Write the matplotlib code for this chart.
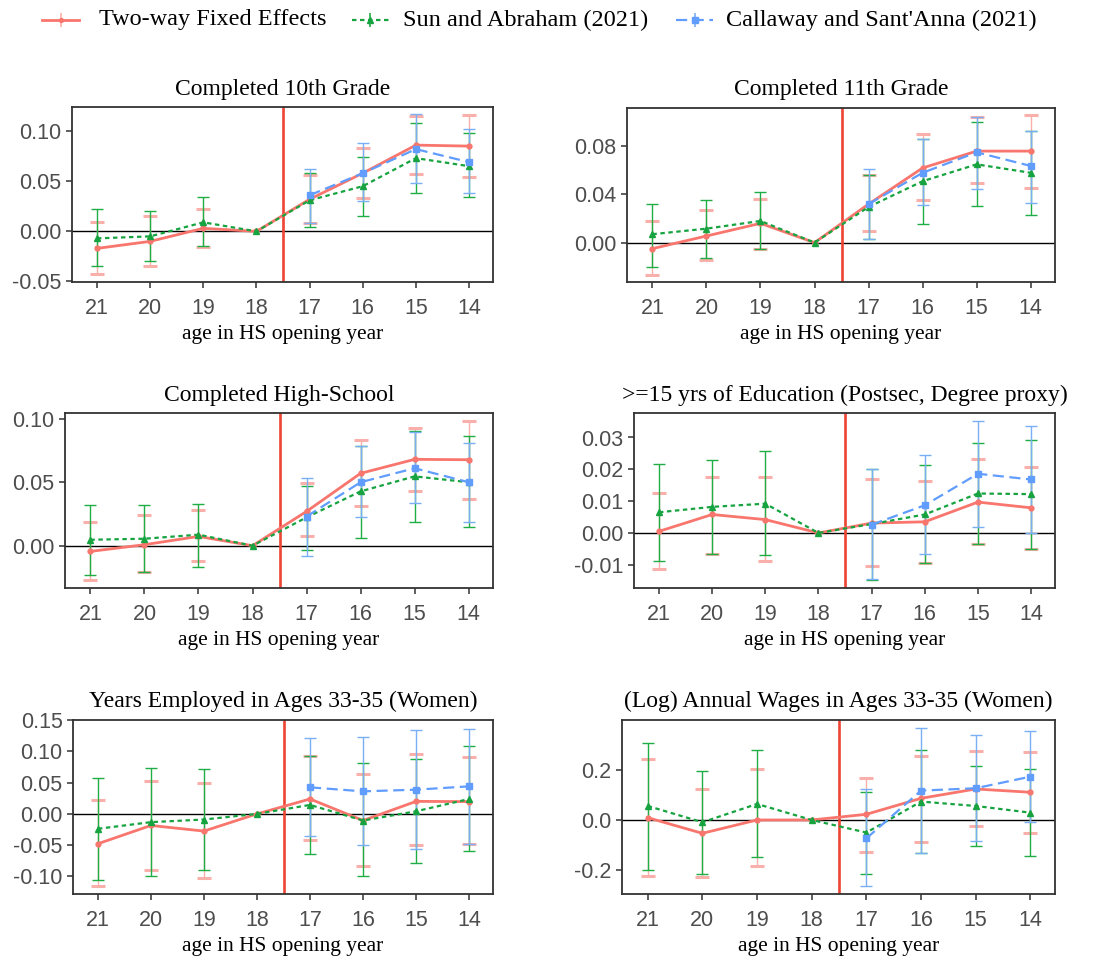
import numpy as np
import matplotlib
matplotlib.use("Agg")
import matplotlib.pyplot as plt
from matplotlib.lines import Line2D

plt.rcParams['axes.unicode_minus'] = False

nan = np.nan
ages = [21, 20, 19, 18, 17, 16, 15, 14]
cs_ages = [17, 16, 15, 14]

titles = ["Completed 10th Grade", "Completed 11th Grade", "Completed High-School",
          ">=15 yrs of Education (Postsec, Degree proxy)",
          "Years Employed in Ages 33-35 (Women)", "(Log) Annual Wages in Ages 33-35 (Women)"]
series_names = ["Two-way Fixed Effects", "Sun and Abraham (2021)", "Callaway and Sant'Anna (2021)"]
x_label = "age in HS opening year"

# Panel 1: Completed 10th Grade
p1_twfe = [-0.017, -0.010, 0.003, 0.0, 0.032, 0.058, 0.086, 0.085]
p1_twfe_lo = [-0.043, -0.035, -0.016, nan, 0.008, 0.033, 0.057, 0.054]
p1_twfe_hi = [0.009, 0.015, 0.022, nan, 0.056, 0.083, 0.115, 0.116]
p1_sa = [-0.007, -0.005, 0.009, 0.0, 0.031, 0.045, 0.073, 0.065]
p1_sa_lo = [-0.035, -0.030, -0.015, nan, 0.004, 0.015, 0.038, 0.034]
p1_sa_hi = [0.022, 0.020, 0.034, nan, 0.058, 0.074, 0.108, 0.098]
p1_cs = [0.036, 0.058, 0.082, 0.069]
p1_cs_lo = [0.008, 0.030, 0.048, 0.038]
p1_cs_hi = [0.062, 0.088, 0.117, 0.102]

# Panel 2: Completed 11th Grade
p2_twfe = [-0.005, 0.0055, 0.016, 0.0, 0.032, 0.062, 0.076, 0.076]
p2_twfe_lo = [-0.0266, -0.0147, -0.005, nan, 0.0097, 0.035, 0.0495, 0.0457]
p2_twfe_hi = [0.0177, 0.027, 0.0365, nan, 0.056, 0.0905, 0.104, 0.106]
p2_sa = [0.007, 0.0116, 0.018, 0.0, 0.0296, 0.051, 0.065, 0.058]
p2_sa_lo = [-0.020, -0.0125, -0.005, nan, 0.0028, 0.0158, 0.030, 0.0227]
p2_sa_hi = [0.0324, 0.035, 0.042, nan, 0.056, 0.086, 0.100, 0.093]
p2_cs = [0.032, 0.058, 0.075, 0.0637]
p2_cs_lo = [0.0033, 0.031, 0.0443, 0.033]
p2_cs_hi = [0.061, 0.086, 0.104, 0.093]

# Panel 3: Completed High-School
p3_twfe = [-0.0045, 0.0008, 0.0073, 0.0, 0.027, 0.057, 0.068, 0.0677]
p3_twfe_lo = [-0.0268, -0.021, -0.0123, nan, 0.0079, 0.031, 0.0428, 0.0367]
p3_twfe_hi = [0.0186, 0.0244, 0.028, nan, 0.049, 0.083, 0.093, 0.098]
p3_sa = [0.0047, 0.0055, 0.0087, 0.0, 0.0223, 0.0428, 0.0546, 0.050]
p3_sa_lo = [-0.0228, -0.0207, -0.0168, nan, -0.0037, 0.006, 0.0184, 0.0144]
p3_sa_hi = [0.0318, 0.0323, 0.033, nan, 0.0467, 0.0787, 0.090, 0.086]
p3_cs = [0.023, 0.050, 0.061, 0.050]
p3_cs_lo = [-0.008, 0.0223, 0.0336, 0.019]
p3_cs_hi = [0.053, 0.0787, 0.0895, 0.081]

# Panel 4: >=15 yrs of Education
p4_twfe = [0.0005, 0.0058, 0.0042, 0.0, 0.0031, 0.0035, 0.0097, 0.0079]
p4_twfe_lo = [-0.0113, -0.0066, -0.0089, nan, -0.0105, -0.0094, -0.0035, -0.005]
p4_twfe_hi = [0.0124, 0.0176, 0.0176, nan, 0.017, 0.0162, 0.0232, 0.0206]
p4_sa = [0.0065, 0.0082, 0.0092, 0.0, 0.0028, 0.0058, 0.0124, 0.0122]
p4_sa_lo = [-0.0087, -0.0065, -0.0068, nan, -0.0147, -0.0094, -0.0035, -0.0049]
p4_sa_hi = [0.0217, 0.023, 0.0257, nan, 0.0201, 0.0212, 0.0283, 0.0293]
p4_cs = [0.0026, 0.0087, 0.0186, 0.0168]
p4_cs_lo = [-0.0145, -0.0066, 0.0018, 0.0]
p4_cs_hi = [0.020, 0.0244, 0.0351, 0.0337]

# Panel 5: Years Employed
p5_twfe = [-0.0477, -0.0185, -0.0275, 0.0, 0.0238, -0.0106, 0.020, 0.0196]
p5_twfe_lo = [-0.1155, -0.089, -0.103, nan, -0.042, -0.0837, -0.049, -0.0477]
p5_twfe_hi = [0.0222, 0.053, 0.049, nan, 0.0927, 0.0636, 0.0964, 0.091]
p5_sa = [-0.0238, -0.0132, -0.009, 0.0, 0.0143, -0.0106, 0.0042, 0.0238]
p5_sa_lo = [-0.106, -0.0996, -0.090, nan, -0.0636, -0.0996, -0.0784, -0.0599]
p5_sa_hi = [0.057, 0.074, 0.0715, nan, 0.0927, 0.0805, 0.0874, 0.1086]
p5_cs = [0.0424, 0.036, 0.0387, 0.044]
p5_cs_lo = [-0.0355, -0.0503, -0.0567, -0.0477]
p5_cs_hi = [0.1218, 0.1234, 0.134, 0.136]

# Panel 6: (Log) Annual Wages
p6_twfe = [0.009, -0.053, 0.0, 0.0, 0.0225, 0.086, 0.123, 0.110]
p6_twfe_lo = [-0.2225, -0.228, -0.183, nan, -0.126, -0.089, -0.0225, -0.050]
p6_twfe_hi = [0.241, 0.123, 0.201, nan, 0.166, 0.254, 0.274, 0.269]
p6_sa = [0.0556, -0.009, 0.0636, 0.0, -0.050, 0.073, 0.0556, 0.029]
p6_sa_lo = [-0.199, -0.216, -0.148, nan, -0.216, -0.13, -0.103, -0.142]
p6_sa_hi = [0.305, 0.195, 0.278, nan, 0.1126, 0.278, 0.216, 0.201]
p6_cs = [-0.073, 0.1166, 0.126, 0.172]
p6_cs_lo = [-0.262, -0.130, -0.0834, -0.007]
p6_cs_hi = [0.123, 0.367, 0.338, 0.355]

y_ticks = [[-0.05, 0.00, 0.05, 0.10], [0.00, 0.04, 0.08], [0.00, 0.05, 0.10],
           [-0.01, 0.00, 0.01, 0.02, 0.03], [-0.10, -0.05, 0.00, 0.05, 0.10, 0.15],
           [-0.2, 0.0, 0.2]]
y_fmt = ["%.2f", "%.2f", "%.2f", "%.2f", "%.2f", "%.1f"]
y_lims = [(-0.0505, 0.124), (-0.0327, 0.1118), (-0.0333, 0.1045),
          (-0.0173, 0.0377), (-0.128, 0.148), (-0.294, 0.397)]

panels = [
    (p1_twfe, p1_twfe_lo, p1_twfe_hi, p1_sa, p1_sa_lo, p1_sa_hi, p1_cs, p1_cs_lo, p1_cs_hi),
    (p2_twfe, p2_twfe_lo, p2_twfe_hi, p2_sa, p2_sa_lo, p2_sa_hi, p2_cs, p2_cs_lo, p2_cs_hi),
    (p3_twfe, p3_twfe_lo, p3_twfe_hi, p3_sa, p3_sa_lo, p3_sa_hi, p3_cs, p3_cs_lo, p3_cs_hi),
    (p4_twfe, p4_twfe_lo, p4_twfe_hi, p4_sa, p4_sa_lo, p4_sa_hi, p4_cs, p4_cs_lo, p4_cs_hi),
    (p5_twfe, p5_twfe_lo, p5_twfe_hi, p5_sa, p5_sa_lo, p5_sa_hi, p5_cs, p5_cs_lo, p5_cs_hi),
    (p6_twfe, p6_twfe_lo, p6_twfe_hi, p6_sa, p6_sa_lo, p6_sa_hi, p6_cs, p6_cs_lo, p6_cs_hi),
]

# axes boxes in pixels: left, top, right, bottom
boxes = [(72, 107, 493, 282), (627, 108, 1055, 282),
         (65, 413, 493, 588), (634, 413, 1055, 588),
         (73, 720, 493, 894), (622, 720, 1055, 894)]

W, H = 1101, 963
fig = plt.figure(figsize=(W / 100, H / 100), dpi=100)

RED = "#F8766D"
RED_CI = "#F9B0AA"
VRED = "#EE4433"
GREEN = "#1FAE45"
GREEN_LINE = "#16A340"
BLUE = "#619CFF"
BLUE_CI = "#7AAEF5"

SERIF = ["Liberation Serif", "DejaVu Serif"]
SANS = ["Liberation Sans", "DejaVu Sans"]

pos = {a: i for i, a in enumerate(ages)}

RED_STYLE = dict(color=RED, lw=2.0, marker='o', ms=3.5)
GREEN_STYLE = dict(color=GREEN_LINE, lw=1.6, ls=(0, (2, 1.6)), marker='^', ms=5)
BLUE_STYLE = dict(color=BLUE, lw=1.6, ls=(0, (5, 2.5)), marker='s', ms=5)


def errbars(ax, xs, lo, hi, color, lw, capw, cap, z):
    xs = np.asarray(xs, float)
    lo = np.asarray(lo, float)
    hi = np.asarray(hi, float)
    m = ~np.isnan(lo)
    mid = (lo[m] + hi[m]) / 2
    ax.errorbar(xs[m], mid, yerr=[mid - lo[m], hi[m] - mid], fmt='none',
                ecolor=color, elinewidth=lw, capsize=cap, capthick=capw, zorder=z)


for i, (box, data) in enumerate(zip(boxes, panels)):
    l, t, r, b = box
    ax = fig.add_axes([l / W, 1 - b / H, (r - l) / W, (b - t) / H])
    tw, twl, twh, sa, sal, sah, cs, csl, csh = data
    x_all = [pos[a] for a in ages]
    x_cs = [pos[a] for a in cs_ages]

    ax.axhline(0, color="black", lw=1.0, zorder=1)
    ax.axvline(3.5, color=VRED, lw=1.9, zorder=2)

    errbars(ax, x_all, twl, twh, RED_CI, 1.0, 2.2, 4.8, 3)
    errbars(ax, x_all, sal, sah, GREEN, 1.0, 1.0, 4.5, 4)
    errbars(ax, x_cs, csl, csh, BLUE_CI, 1.0, 1.0, 4.5, 5)

    ax.plot(x_all, tw, zorder=6, **RED_STYLE)
    ax.plot(x_all, sa, zorder=7, **GREEN_STYLE)
    ax.plot(x_cs, cs, zorder=8, **BLUE_STYLE)

    ax.set_xlim(-0.47, 7.45)
    ax.set_ylim(*y_lims[i])
    ax.set_xticks(range(len(ages)))
    ax.set_xticklabels([str(a) for a in ages])
    ax.set_yticks(y_ticks[i])
    ax.set_yticklabels([y_fmt[i] % v for v in y_ticks[i]])
    for lab in ax.get_xticklabels() + ax.get_yticklabels():
        lab.set_fontfamily(SANS)
        lab.set_fontsize(15.5)
        lab.set_color("#4D4D4D")
    ax.tick_params(length=4, width=1.1, color="#333333", pad=3.5)
    ax.tick_params(axis='x', pad=7.5)
    for sp in ax.spines.values():
        sp.set_color("#333333")
        sp.set_linewidth(1.3)
    ax.set_title(titles[i], fontfamily=SERIF, fontsize=17, pad=9, color="black")
    ax.set_xlabel(x_label, fontfamily=SERIF, fontsize=15.5, labelpad=4.5, color="black")

# manual legend (figure pixel layout)
leg_y = 1 - 20 / H
key_spans = [(42, 79), (352, 389), (676, 713)]
text_x = [99, 403, 726]
styles = [(RED_STYLE, RED_CI), (GREEN_STYLE, GREEN), (BLUE_STYLE, BLUE_CI)]
for (k0, k1), tx, (st, cic), name in zip(key_spans, text_x, styles, series_names):
    st2 = dict(st)
    st2.pop('marker')
    ms = st2.pop('ms')
    fig.add_artist(Line2D([k0 / W, k1 / W], [leg_y, leg_y], transform=fig.transFigure, **st2))
    xc = (k0 + k1) / 2 / W
    fig.add_artist(Line2D([xc], [leg_y], transform=fig.transFigure, color=cic,
                          marker='|', ms=10, mew=1.2, ls='none'))
    fig.add_artist(Line2D([xc], [leg_y], transform=fig.transFigure, color=st['color'],
                          marker=st['marker'], ms=ms * 0.8, ls='none'))
    fig.text(tx / W, leg_y, name, fontfamily=SERIF, fontsize=17.5, va='center', ha='left')

fig.savefig("out.png", dpi=100, facecolor="white")
